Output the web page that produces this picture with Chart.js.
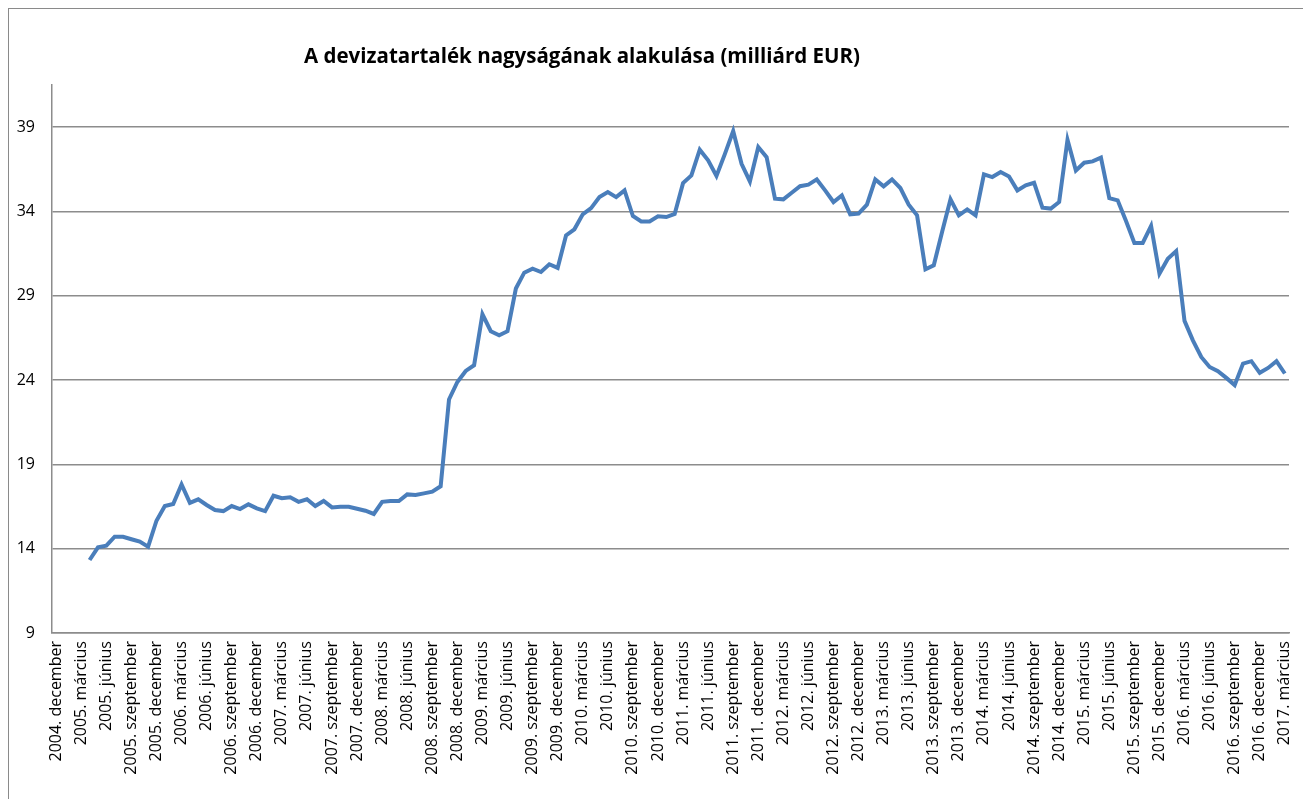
<!DOCTYPE html>
<html>
<head>
<meta charset="utf-8">
<script src="https://cdn.jsdelivr.net/npm/chart.js@4.4.0/dist/chart.umd.min.js"></script>
<style>
html, body { margin: 0; padding: 0; background: #fff; overflow: hidden; }
#frame { position: absolute; left: 8px; top: 8px; width: 1400px; height: 900px; border: 1px solid #8a8a8a; }
#reserves { position: absolute; left: 0; top: 0; }
</style>
</head>
<body>
<div id="frame"></div>
<canvas id="reserves" width="1303" height="799"></canvas>
<script>
const chartTitle = 'A devizatartalék nagyságának alakulása (milliárd EUR)'

// hónapok, 2004. december -> 2017. március
const monthNames = ['január', 'február', 'március', 'április', 'május', 'június',
    'július', 'augusztus', 'szeptember', 'október', 'november', 'december']
const firstYear = 2004
const firstMonth = 11
const monthCount = 148

const yTicks = [9, 14, 19, 24, 29, 34, 39]

// devizatartalék, milliárd EUR (havi)
const reserves = [
    null, null, null, null,
    13.33, 14.08, 14.18, 14.71, 14.71, 14.56, 14.42, 14.12, 15.66, 16.53, 16.65, 17.81, 16.72,
    16.93, 16.59, 16.29, 16.23, 16.53, 16.35, 16.63, 16.39, 16.23, 17.14, 16.99, 17.05, 16.78,
    16.93, 16.53, 16.83, 16.45, 16.49, 16.49, 16.37, 16.25, 16.06, 16.78, 16.83, 16.83, 17.22,
    17.18, 17.28, 17.38, 17.70,
    22.85, 23.89, 24.54, 24.88, 27.90, 26.90, 26.66, 26.90,
    29.43, 30.37, 30.61, 30.41, 30.87, 30.65, 32.58, 32.94, 33.83, 34.20, 34.85, 35.15, 34.85,
    35.25, 33.73, 33.41, 33.41, 33.71, 33.67, 33.85, 35.68, 36.14, 37.66, 37.03, 36.10,
    37.40, 38.77, 36.83, 35.78, 37.82, 37.22, 34.76, 34.72, 35.11, 35.50, 35.59, 35.90, 35.25,
    34.56, 34.95, 33.83, 33.87, 34.40, 35.90, 35.49, 35.90, 35.39, 34.40, 33.77, 30.57, 30.81,
    32.80, 34.72, 33.77, 34.12, 33.77, 36.20, 36.04, 36.34, 36.08, 35.25, 35.55, 35.70, 34.22,
    34.17, 34.56, 38.25, 36.43, 36.89, 36.97, 37.19, 34.79, 34.66, 33.43, 32.13,
    32.13, 33.14, 30.31, 31.20, 31.65, 27.51, 26.36, 25.37, 24.78, 24.53, 24.13, 23.70, 24.98,
    25.12, 24.43, 24.72, 25.12, 24.39
]

const labels = []
for (let i = 0; i < monthCount; i++) {
    const m = firstMonth + i
    labels.push((firstYear + Math.floor(m / 12)) + '. ' + monthNames[m % 12])
}

const font = 'Open Sans'
const gridColor = '#8c8c8c'

const freeTitle = {
    id: 'freeTitle',
    afterDraw(chart) {
        const ctx = chart.ctx
        ctx.save()
        ctx.font = 'bold 20.5px "' + font + '"'
        ctx.fillStyle = '#000'
        ctx.textAlign = 'center'
        ctx.textBaseline = 'middle'
        ctx.fillText(chartTitle, 582, 57)
        ctx.restore()
    }
}

const ctx = document.getElementById('reserves').getContext('2d')

new Chart(ctx, {
    type: 'line',
    data: {
        labels: labels,
        datasets: [{
            label: 'Devizatartalék',
            data: reserves,
            borderColor: '#4a7ebb',
            backgroundColor: '#4a7ebb',
            borderWidth: 4,
            pointRadius: 0,
            tension: 0,
            spanGaps: false
        }]
    },
    options: {
        responsive: false,
        animation: false,
        layout: {
            padding: { top: 85, right: 14, left: 0, bottom: 0 }
        },
        plugins: {
            legend: { display: false },
            tooltip: { enabled: false },
            title: { display: false }
        },
        scales: {
            x: {
                type: 'category',
                offset: true,
                grid: { display: false, drawTicks: false },
                border: { display: true, color: gridColor, width: 1.5 },
                ticks: {
                    autoSkip: false,
                    maxRotation: 90,
                    minRotation: 90,
                    padding: 8,
                    color: '#000',
                    font: { family: font, size: 16 },
                    callback: (val, idx) => idx % 3 === 0 ? labels[idx] : ''
                },
                afterFit: (scale) => {
                    scale.height = 166
                    scale.paddingLeft = 0
                    scale.paddingRight = 0
                }
            },
            y: {
                min: 9,
                max: 41.5,
                grid: { color: gridColor, lineWidth: 1.5, drawTicks: false },
                border: { display: true, color: gridColor, width: 1.5 },
                ticks: {
                    padding: 17,
                    color: '#000',
                    font: { family: font, size: 16 }
                },
                afterBuildTicks: (axis) => { axis.ticks = yTicks.map(v => ({ value: v })) },
                afterFit: (scale) => { scale.width = 52 }
            }
        }
    },
    plugins: [freeTitle]
})
</script>
</body>
</html>
